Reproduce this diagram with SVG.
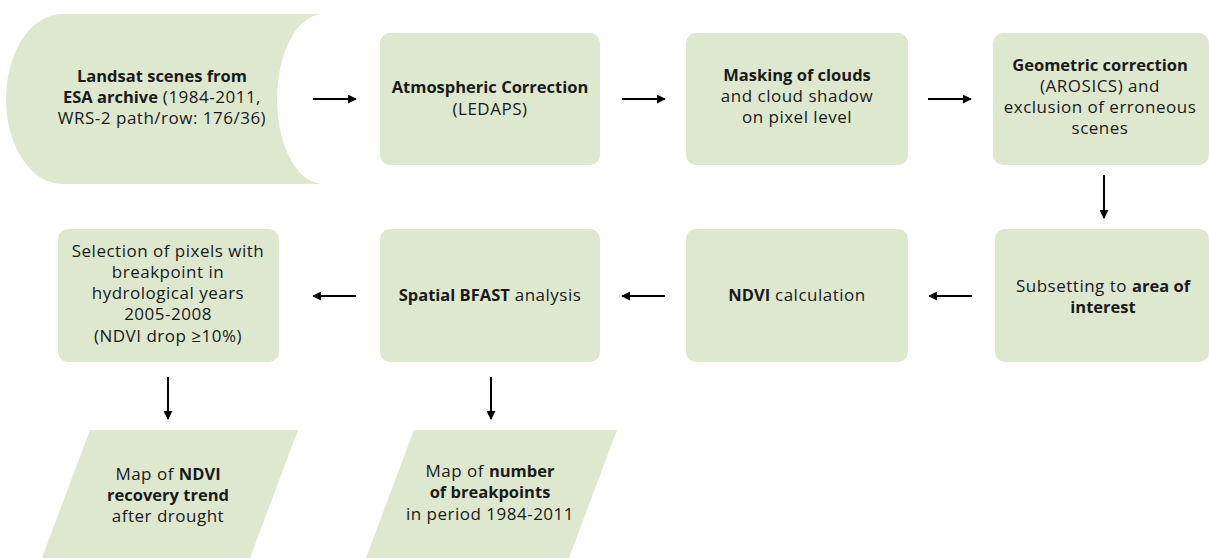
<svg xmlns="http://www.w3.org/2000/svg" width="1209" height="558" viewBox="0 0 1209 558">
<style>
.n{fill:#dde8cf;stroke:none}
text{font-family:"Open Sans","Noto Sans",sans-serif;font-size:17px;letter-spacing:0.5px;fill:#1a1a1a;text-anchor:middle}
.b{font-weight:bold;font-size:16.5px;letter-spacing:0}
.c line{stroke:#000;stroke-width:2;marker-end:url(#ah)}
</style>
<defs>
<marker id="ah" viewBox="0 0 10 10" refX="9" refY="5" markerWidth="4.5" markerHeight="4.5" markerUnits="strokeWidth" orient="auto">
<path d="M0,0 L10,5 L0,10 Z" fill="#000"/>
</marker>
</defs>
<rect width="1209" height="558" fill="#fff"/>
<g id="landsat">
<path class="n" d="M323,14 L62,14 A56,85 0 0 0 62,184 L323,184 A46,85 0 0 1 323,14 Z"/>
<text x="162" y="82" class="b">Landsat scenes from</text>
<text x="162" y="103"><tspan class="b">ESA archive</tspan> (1984-2011,</text>
<text x="162" y="124">WRS-2 path/row: 176/36)</text>
</g>
<g id="atmos">
<rect class="n" x="380" y="33" width="220" height="132" rx="10"/>
<text x="490" y="93" class="b">Atmospheric Correction</text>
<text x="490" y="115">(LEDAPS)</text>
</g>
<g id="mask">
<rect class="n" x="686" y="33" width="222" height="132" rx="10"/>
<text x="797" y="81" class="b">Masking of clouds</text>
<text x="797" y="102">and cloud shadow</text>
<text x="797" y="123">on pixel level</text>
</g>
<g id="geom">
<rect class="n" x="993" y="33" width="216" height="132" rx="10"/>
<text x="1100" y="71" class="b">Geometric correction</text>
<text x="1100" y="92">(AROSICS) and</text>
<text x="1100" y="113">exclusion of erroneous</text>
<text x="1100" y="134">scenes</text>
</g>
<g id="subset">
<rect class="n" x="995" y="229" width="214" height="133" rx="10"/>
<text x="1103" y="292">Subsetting to <tspan class="b">area of</tspan></text>
<text x="1103" y="313" class="b">interest</text>
</g>
<g id="ndvi">
<rect class="n" x="686" y="229" width="222" height="133" rx="10"/>
<text x="797" y="301"><tspan class="b">NDVI</tspan> calculation</text>
</g>
<g id="bfast">
<rect class="n" x="380" y="229" width="220" height="133" rx="10"/>
<text x="490" y="301"><tspan class="b">Spatial BFAST</tspan> analysis</text>
</g>
<g id="select">
<rect class="n" x="58" y="229" width="221" height="133" rx="10"/>
<text x="168" y="257">Selection of pixels with</text>
<text x="168" y="278">breakpoint in</text>
<text x="168" y="299">hydrological years</text>
<text x="168" y="320">2005-2008</text>
<text x="168" y="342">(NDVI drop ≥10%)</text>
</g>
<g id="map-recovery">
<path class="n" d="M90,430 L298,430 L250,558 L42,558 Z"/>
<text x="168" y="480">Map of <tspan class="b">NDVI</tspan></text>
<text x="168" y="501" class="b">recovery trend</text>
<text x="168" y="522">after drought</text>
</g>
<g id="map-breakpoints">
<path class="n" d="M414,430 L617,430 L569,558 L366,558 Z"/>
<text x="490" y="477">Map of <tspan class="b">number</tspan></text>
<text x="490" y="498" class="b">of breakpoints</text>
<text x="490" y="520">in period 1984-2011</text>
</g>
<g id="connectors" class="c">
<line x1="313" y1="99" x2="356" y2="99"/>
<line x1="622" y1="99" x2="665" y2="99"/>
<line x1="928" y1="99" x2="971" y2="99"/>
<line x1="1104" y1="175" x2="1104" y2="218"/>
<line x1="972" y1="296" x2="929" y2="296"/>
<line x1="665" y1="296" x2="622" y2="296"/>
<line x1="356" y1="296" x2="313" y2="296"/>
<line x1="168" y1="377" x2="168" y2="419"/>
<line x1="491" y1="377" x2="491" y2="419"/>
</g>
</svg>
